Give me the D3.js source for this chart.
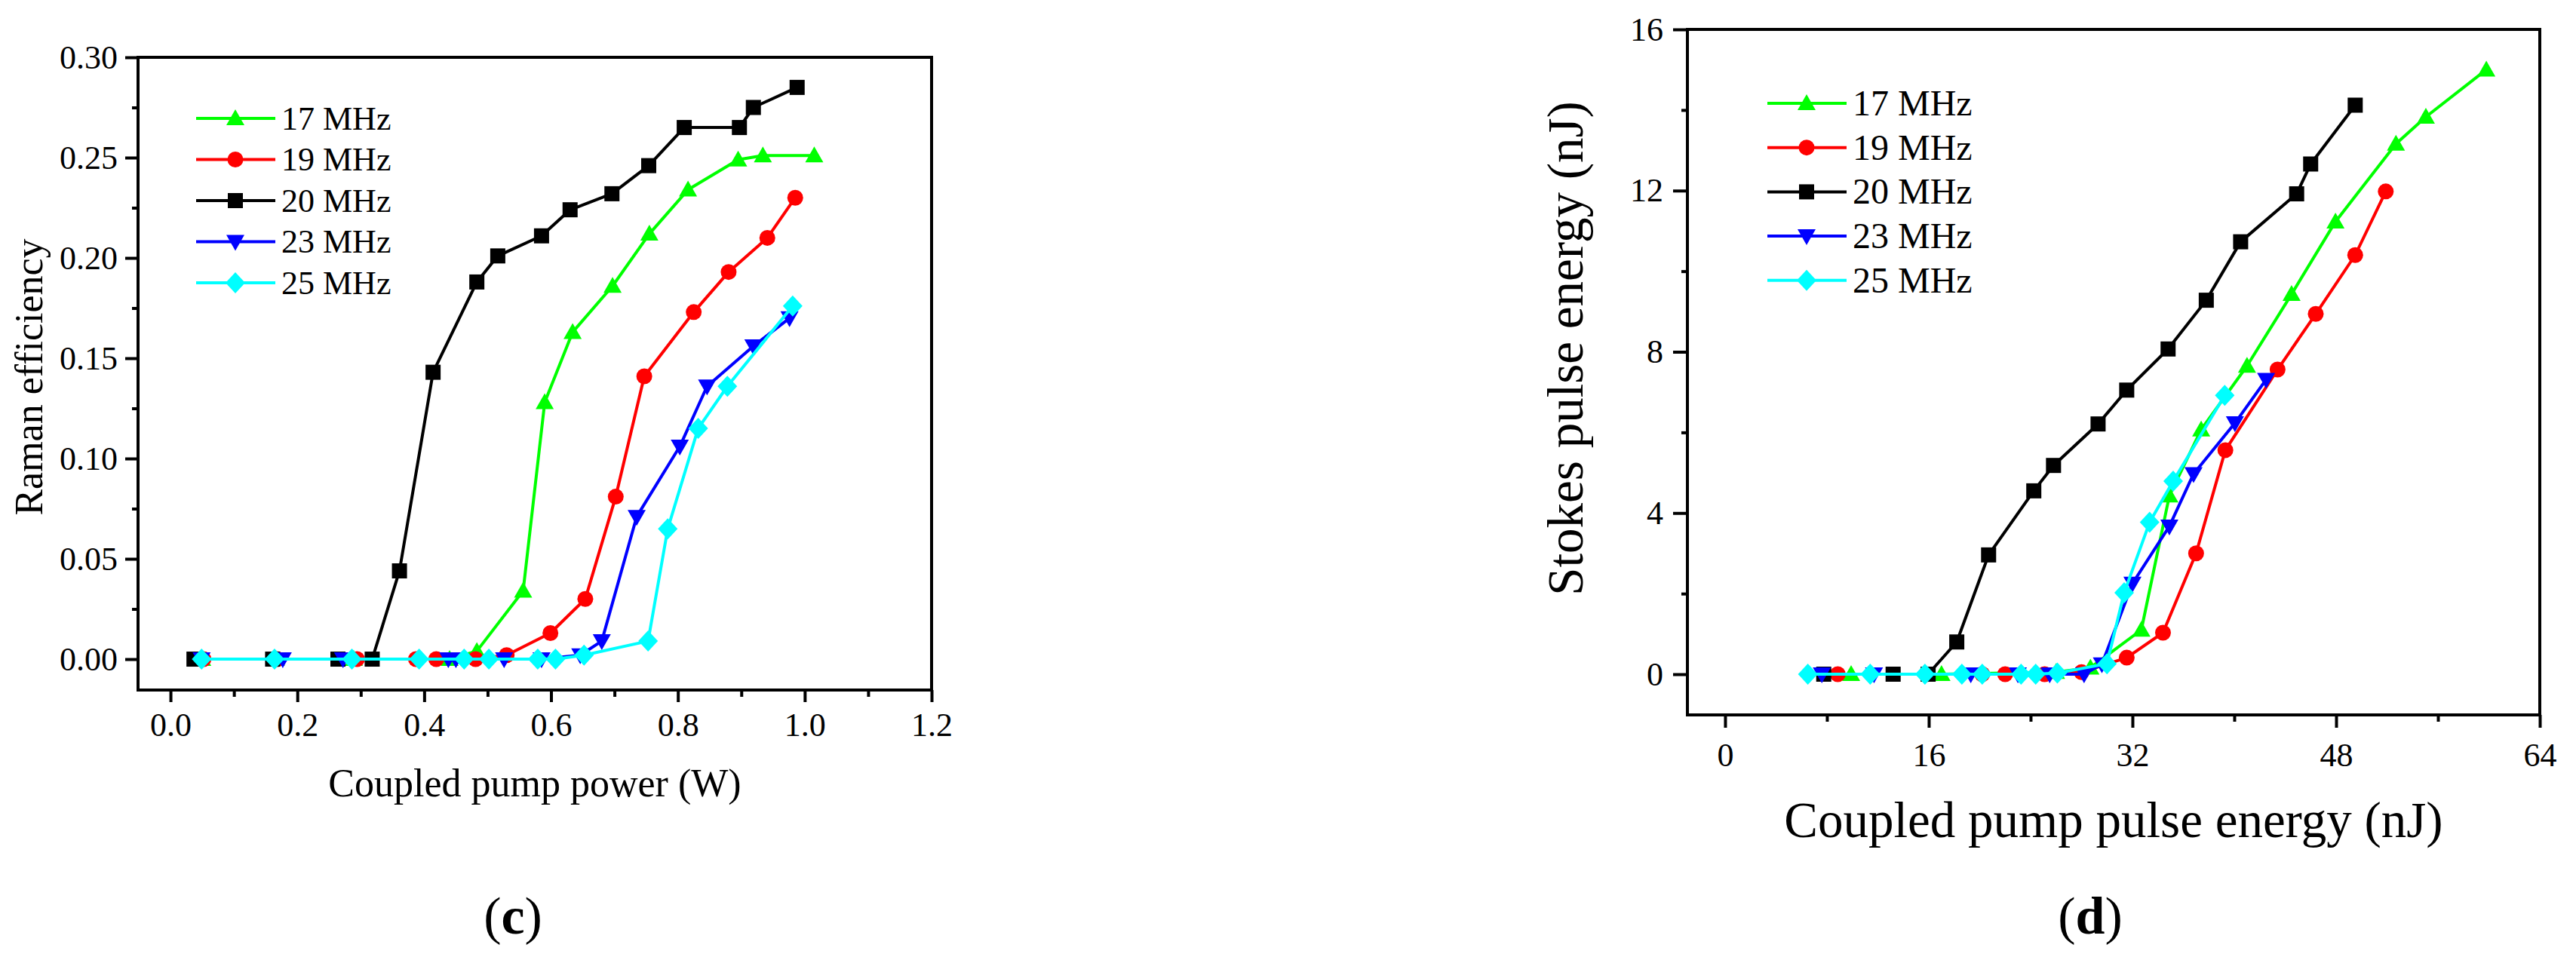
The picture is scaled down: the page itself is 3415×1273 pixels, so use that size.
<!DOCTYPE html>
<meta charset="utf-8">
<style>
body { margin: 0; background: #fff; }
svg { display: block; }
text { font-family: "Liberation Serif", "Times New Roman", serif; fill: #000; }
.frame { fill: none; stroke: #000; stroke-width: 4px; }
.tick line { stroke: #000; stroke-width: 4px; }
.series { fill: none; stroke-width: 4px; stroke-linejoin: round; }
</style>
<svg width="3415" height="1273"></svg>
<script src="https://cdn.jsdelivr.net/npm/d3@7"></script>
<script>

var labels = ["17 MHz", "19 MHz", "20 MHz", "23 MHz", "25 MHz"];
var colors = ["#00ff00", "#ff0000", "#000000", "#0000ff", "#00ffff"];
var shapes = ["up", "circle", "square", "down", "diamond"];

// panel (c): coupled pump power (W) vs Raman efficiency
var powerData = [
  [[0.050,0],[0.166,0],[0.289,0],[0.440,0],[0.483,0.004],[0.556,0.034],[0.590,0.128],[0.634,0.163],[0.697,0.186],[0.755,0.212],[0.816,0.234],[0.895,0.249],[0.934,0.251],[1.015,0.251]],
  [[0.052,0],[0.168,0],[0.294,0],[0.387,0],[0.419,0],[0.481,0],[0.530,0.002],[0.599,0.013],[0.654,0.030],[0.702,0.081],[0.747,0.141],[0.825,0.173],[0.880,0.193],[0.941,0.210],[0.985,0.230]],
  [[0.037,0],[0.161,0],[0.264,0],[0.318,0],[0.361,0.044],[0.414,0.143],[0.483,0.188],[0.516,0.201],[0.585,0.211],[0.630,0.224],[0.696,0.232],[0.754,0.246],[0.810,0.265],[0.897,0.265],[0.919,0.275],[0.988,0.285]],
  [[0.049,0],[0.177,0],[0.272,0],[0.438,0],[0.450,0],[0.526,0],[0.585,0],[0.646,0.002],[0.680,0.009],[0.735,0.071],[0.803,0.106],[0.846,0.136],[0.919,0.156],[0.976,0.170]],
  [[0.049,0],[0.164,0],[0.286,0],[0.392,0],[0.463,0],[0.502,0],[0.579,0],[0.607,0],[0.652,0.002],[0.753,0.009],[0.784,0.065],[0.832,0.115],[0.878,0.136],[0.981,0.176]]
];
var powerTicks = [0, 0.2, 0.4, 0.6, 0.8, 1.0, 1.2];
var powerMinor = [0.1, 0.3, 0.5, 0.7, 0.9, 1.1];
var effTicks = [0, 0.05, 0.10, 0.15, 0.20, 0.25, 0.30];
var effMinor = [0.025, 0.075, 0.125, 0.175, 0.225, 0.275];

// panel (d): coupled pump pulse energy (nJ) vs Stokes pulse energy (nJ)
var energyData = [
  [[9.9,0],[17.0,0],[26.0,0.05],[28.7,0.16],[32.7,1.10],[34.9,4.43],[37.4,6.07],[41.0,7.65],[44.5,9.43],[47.95,11.23],[52.7,13.16],[55.05,13.83],[59.8,15.0]],
  [[8.85,0],[15.8,0],[20.2,0],[22.0,0],[25.1,0],[28.0,0.05],[31.55,0.41],[34.4,1.03],[37.0,3.0],[39.3,5.56],[43.4,7.56],[46.4,8.94],[49.5,10.4],[51.9,11.98]],
  [[7.75,0],[13.2,0],[15.95,0],[18.2,0.80],[20.7,2.96],[24.25,4.55],[25.8,5.18],[29.3,6.21],[31.55,7.05],[34.8,8.07],[37.8,9.28],[40.5,10.73],[44.9,11.92],[46.0,12.66],[49.5,14.12]],
  [[7.6,0],[11.7,0],[19.3,0],[23.0,0],[25.5,0],[28.2,0],[29.6,0.25],[32.0,2.25],[34.9,3.67],[36.8,4.97],[40.05,6.23],[42.5,7.31]],
  [[6.5,0],[11.4,0],[15.7,0],[18.6,0],[20.2,0],[23.25,0],[24.4,0],[26.1,0.03],[30.0,0.26],[31.35,2.02],[33.35,3.77],[35.2,4.79],[39.25,6.92]]
];
var pumpTicks = [0, 16, 32, 48, 64];
var pumpMinor = [8, 24, 40, 56];
var stokesTicks = [0, 4, 8, 12, 16];
var stokesMinor = [2, 6, 10, 14];

var svg = d3.select("svg");

// marker path centred on 0,0
function marker(shape) {
  switch (shape) {
    case "up": return "M0,-12L12,9L-12,9Z";
    case "down": return "M0,12L12,-9L-12,-9Z";
    case "square": return "M-10,-10H10V10H-10Z";
    case "diamond": return "M0,-14L13,0L0,14L-13,0Z";
    default: return "M10.5,0A10.5,10.5 0 1,1 -10.5,0A10.5,10.5 0 1,1 10.5,0Z";
  }
}

function panel(o) {
  var g = svg.append("g");
  var x = d3.scaleLinear().domain(o.xDomain).range([o.left, o.right]);
  var y = d3.scaleLinear().domain(o.yDomain).range([o.bottom, o.top]);

  // series, drawn in legend order so 25 MHz ends up on top
  o.data.forEach(function(d, i) {
    var s = g.append("g");
    s.append("path")
      .datum(d)
      .attr("class", "series")
      .attr("stroke", colors[i])
      .attr("d", d3.line().x(function(p) { return x(p[0]); }).y(function(p) { return y(p[1]); }));
    s.selectAll("path.m")
      .data(d)
      .enter().append("path")
      .attr("class", "m")
      .attr("fill", colors[i])
      .attr("d", marker(shapes[i]))
      .attr("transform", function(p) { return "translate(" + x(p[0]) + "," + y(p[1]) + ")"; });
  });

  // axes
  var xa = g.append("g").attr("transform", "translate(0," + o.bottom + ")");
  xa.call(d3.axisBottom(x).tickValues(o.xTicks).tickSize(o.majX).tickPadding(o.padX).tickFormat(o.xFmt));
  xa.append("g").call(d3.axisBottom(x).tickValues(o.xMinor).tickSize(9).tickFormat(""));
  var ya = g.append("g").attr("transform", "translate(" + o.left + ",0)");
  ya.call(d3.axisLeft(y).tickValues(o.yTicks).tickSize(o.majY).tickPadding(o.padY).tickFormat(o.yFmt));
  ya.append("g").call(d3.axisLeft(y).tickValues(o.yMinor).tickSize(8).tickFormat(""));
  g.selectAll(".domain").remove();
  g.selectAll(".tick text")
    .style("font-family", "'Liberation Serif', 'Times New Roman', serif")
    .style("font-size", "44px");

  g.append("rect")
    .attr("class", "frame")
    .attr("x", o.left).attr("y", o.top)
    .attr("width", o.right - o.left).attr("height", o.bottom - o.top);

  // legend
  labels.forEach(function(l, i) {
    var ly = o.legY + i * o.legStep;
    g.append("line")
      .attr("x1", o.legX).attr("x2", o.legX + 105)
      .attr("y1", ly).attr("y2", ly)
      .attr("stroke", colors[i]).attr("stroke-width", 4);
    g.append("path")
      .attr("fill", colors[i])
      .attr("d", marker(shapes[i]))
      .attr("transform", "translate(" + (o.legX + 52) + "," + ly + ")");
    g.append("text")
      .attr("x", o.legX + 113).attr("y", ly + o.legFont * 0.33)
      .style("font-size", o.legFont + "px")
      .text(l);
  });

  // titles
  g.append("text")
    .attr("x", (o.left + o.right) / 2).attr("y", o.xTitleY)
    .attr("text-anchor", "middle")
    .style("font-size", o.titleFont + "px")
    .text(o.xTitle);
  g.append("text")
    .attr("transform", "translate(" + o.yTitleX + "," + o.yTitleC + ") rotate(-90)")
    .attr("text-anchor", "middle")
    .style("font-size", o.titleFont + "px")
    .text(o.yTitle);

  var cap = g.append("text")
    .attr("x", o.capX).attr("y", 1238)
    .attr("text-anchor", "middle")
    .style("font-size", "70px");
  cap.append("tspan").text("(");
  cap.append("tspan").style("font-weight", "bold").text(o.cap);
  cap.append("tspan").text(")");
}

panel({
  data: powerData,
  left: 183, right: 1235, top: 76, bottom: 915,
  xDomain: [-0.0512, 1.2], yDomain: [-0.0154, 0.30],
  xTicks: powerTicks, xMinor: powerMinor, yTicks: effTicks, yMinor: effMinor,
  xFmt: d3.format(".1f"), yFmt: d3.format(".2f"),
  majX: 16, majY: 17, padX: 14, padY: 10,
  legX: 260, legY: 157, legStep: 54.5, legFont: 44,
  xTitle: "Coupled pump power (W)", xTitleY: 1056,
  yTitle: "Raman efficiency", yTitleX: 56, yTitleC: 500,
  titleFont: 52, cap: "c", capX: 680
});

panel({
  data: energyData,
  left: 2237, right: 3367, top: 39, bottom: 948,
  xDomain: [-2.96, 64], yDomain: [-1.01, 16],
  xTicks: pumpTicks, xMinor: pumpMinor, yTicks: stokesTicks, yMinor: stokesMinor,
  xFmt: d3.format("d"), yFmt: d3.format("d"),
  majX: 17, majY: 19, padX: 20, padY: 13,
  legX: 2343, legY: 137, legStep: 58.7, legFont: 48,
  xTitle: "Coupled pump pulse energy (nJ)", xTitleY: 1110,
  yTitle: "Stokes pulse energy (nJ)", yTitleX: 2098, yTitleC: 462,
  titleFont: 67, cap: "d", capX: 2771
});

</script>
